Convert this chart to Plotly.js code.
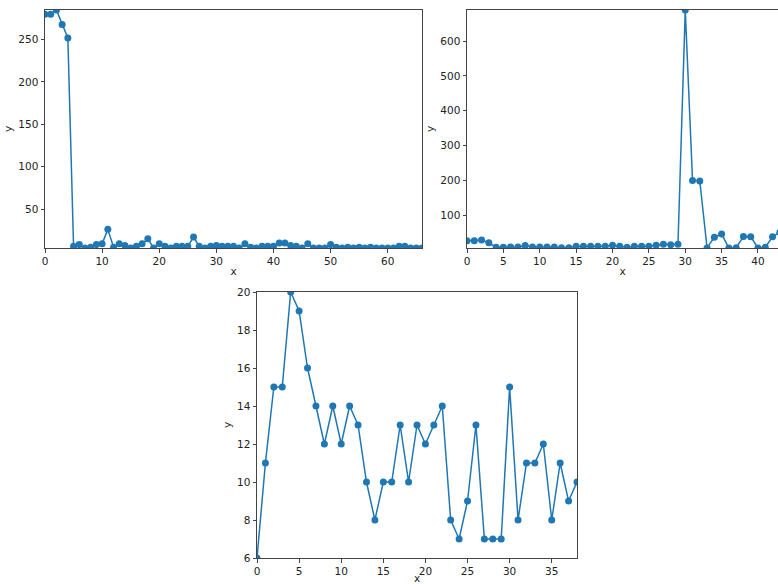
<!DOCTYPE html>
<html>
<head>
<meta charset="utf-8">
<script src="https://cdn.plot.ly/plotly-3.0.1.min.js"></script>
<style>html,body{margin:0;padding:0;background:#fff;}#chart{width:778px;height:584px;}</style>
</head>
<body>
<div id="chart"></div>
<script>
// Panel 1 (top-left)
const y1 = [280, 280, 285, 268, 252, 6, 8, 4, 5, 8, 9, 26, 5, 9, 7, 4, 6, 9, 15, 4,
            9, 6, 4, 6, 6, 6, 17, 6, 4, 6, 7, 6, 6, 6, 4, 9, 5, 4, 6, 6,
            6, 10, 10, 7, 6, 4, 9, 4, 4, 4, 8, 5, 4, 5, 4, 5, 4, 5, 4, 4,
            4, 4, 6, 6, 4, 4, 4];
// Panel 2 (top-right)
const y2 = [27, 27, 29, 21, 8, 8, 9, 9, 13, 9, 9, 9, 9, 7, 7, 11, 11, 11, 11, 11,
            14, 11, 8, 11, 11, 11, 14, 17, 15, 17, 689, 200, 198, 6, 37, 46, 6, 7, 39, 38,
            6, 8, 38, 51];
// Panel 3 (bottom)
const y3 = [6, 11, 15, 15, 20, 19, 16, 14, 12, 14, 12, 14, 13, 10, 8, 10, 10, 13, 10, 13,
            12, 13, 14, 8, 7, 9, 13, 7, 7, 7, 15, 8, 11, 11, 12, 8, 11, 9, 10];

const idx = a => a.map((_, i) => i);
const blue = '#1f77b4';
function trace(y, xa, ya) {
  return {x: idx(y), y: y, xaxis: xa, yaxis: ya, type: 'scatter', mode: 'lines+markers',
          line: {color: blue, width: 1.5}, marker: {color: blue, size: 7},
          cliponaxis: true, hoverinfo: 'none', showlegend: false};
}
const font = {family: 'DejaVu Sans', size: 10.5, color: '#222'};
function ax(extra) {
  return Object.assign({
    showline: true, mirror: true, linecolor: '#444', linewidth: 1,
    ticks: 'outside', ticklen: 3.5, tickcolor: '#444', tickwidth: 1,
    showgrid: false, zeroline: false, tickfont: font, fixedrange: true
  }, extra);
}
const W = 778, H = 584;
const layout = {
  width: W, height: H, margin: {l: 0, r: 0, t: 0, b: 0},
  paper_bgcolor: '#fff', plot_bgcolor: '#fff', font: font,
  xaxis: ax({domain: [45 / W, 422 / W], range: [0, 66], tickvals: [0, 10, 20, 30, 40, 50, 60], anchor: 'y',
            title: {text: 'x', font: font, standoff: 1}}),
  yaxis: ax({domain: [1 - 248 / H, 1 - 10 / H], range: [4, 285], tickvals: [50, 100, 150, 200, 250], anchor: 'x',
            title: {text: 'y', font: font, standoff: 3}}),
  xaxis2: ax({domain: [467 / W, 1], range: [0, 42.75], tickvals: [0, 5, 10, 15, 20, 25, 30, 35, 40], anchor: 'y2',
            title: {text: 'x', font: font, standoff: 1}}),
  yaxis2: ax({domain: [1 - 248 / H, 1 - 10 / H], range: [6, 689], tickvals: [100, 200, 300, 400, 500, 600], anchor: 'x2',
            title: {text: 'y', font: font, standoff: 3}}),
  xaxis3: ax({domain: [257 / W, 577 / W], range: [0, 38], tickvals: [0, 5, 10, 15, 20, 25, 30, 35], anchor: 'y3',
            title: {text: 'x', font: font, standoff: 4}}),
  yaxis3: ax({domain: [1 - 558 / H, 1 - 292 / H], range: [6, 20], tickvals: [6, 8, 10, 12, 14, 16, 18, 20], anchor: 'x3',
            title: {text: 'y', font: font, standoff: 3}})
};
Plotly.newPlot('chart', [trace(y1, 'x', 'y'), trace(y2, 'x2', 'y2'), trace(y3, 'x3', 'y3')], layout,
  {staticPlot: true, displayModeBar: false});
</script>
</body>
</html>
